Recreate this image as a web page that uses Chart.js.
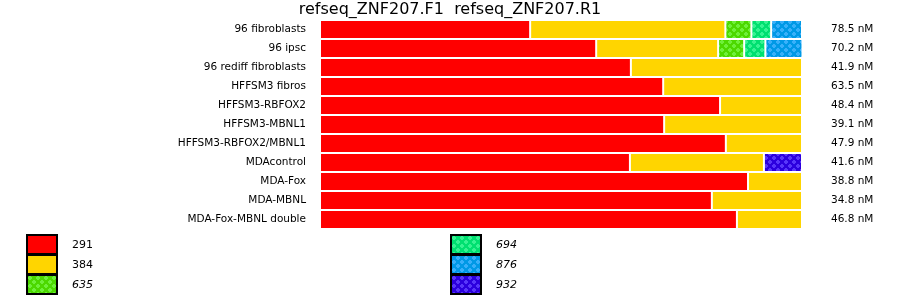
<!DOCTYPE html>
<html lang="en">
  <head>
    <meta charset="UTF-8" />
    <title>refseq_ZNF207</title>
    <script src="https://cdn.jsdelivr.net/npm/chart.js"></script>
    <style>
      body { margin: 0; background: #fff; }
      canvas { display: block; }
    </style>
  </head>
  <body>
    <canvas id="znfChart" width="900" height="299"></canvas>

    <script>
      const chartTitle = "refseq_ZNF207.F1  refseq_ZNF207.R1";

      // samples, top to bottom
      const samples = [
        "96 fibroblasts",
        "96 ipsc",
        "96 rediff fibroblasts",
        "HFFSM3 fibros",
        "HFFSM3-RBFOX2",
        "HFFSM3-MBNL1",
        "HFFSM3-RBFOX2/MBNL1",
        "MDAcontrol",
        "MDA-Fox",
        "MDA-MBNL",
        "MDA-Fox-MBNL double",
      ];
      const concentrations = [
        "78.5 nM", "70.2 nM", "41.9 nM", "63.5 nM", "48.4 nM", "39.1 nM",
        "47.9 nM", "41.6 nM", "38.8 nM", "34.8 nM", "46.8 nM",
      ];

      // percentage of each product size per sample
      const size291 = [43.6, 57.3, 64.5, 71.2, 83.0, 71.4, 84.2, 64.3, 88.8, 81.3, 86.5];
      const size384 = [40.5, 25.3, 35.5, 28.8, 17.0, 28.6, 15.8, 27.8, 11.2, 18.7, 13.5];
      const size635 = [5.4, 5.4, null, null, null, null, null, null, null, null, null];
      const size694 = [4.1, 4.4, null, null, null, null, null, null, null, null, null];
      const size876 = [6.4, 7.7, null, null, null, null, null, null, null, null, null];
      const size932 = [null, null, null, null, null, null, null, 7.9, null, null, null];

      const FONT = "DejaVu Sans";

      // small dotted tile used for the less common sizes
      function makePattern(base, dot) {
        const c = document.createElement("canvas");
        c.width = 8;
        c.height = 8;
        const g = c.getContext("2d");
        g.fillStyle = base;
        g.fillRect(0, 0, 8, 8);
        g.fillStyle = dot;
        [[2, 2], [6, 6]].forEach(([cx, cy]) => {
          g.fillRect(cx - 1, cy - 2, 2, 4);
          g.fillRect(cx - 2, cy - 1, 4, 2);
        });
        return g.createPattern(c, "repeat");
      }

      const series = [
        { label: "291", data: size291, color: "#ff0000", italic: false },
        { label: "384", data: size384, color: "#ffd500", italic: false },
        { label: "635", data: size635, color: makePattern("#4cd800", "#6ef03a"), italic: true },
        { label: "694", data: size694, color: makePattern("#00e070", "#36f392"), italic: true },
        { label: "876", data: size876, color: makePattern("#0099e6", "#38b0fa"), italic: true },
        { label: "932", data: size932, color: makePattern("#2c00de", "#5836fa"), italic: true },
      ];

      // title on top + legend in two columns under the bars
      const decorations = {
        id: "decorations",
        afterDraw(chart) {
          const ctx = chart.ctx;
          ctx.save();
          ctx.fillStyle = "#000";
          ctx.font = "16px '" + FONT + "'";
          ctx.textAlign = "center";
          ctx.textBaseline = "alphabetic";
          ctx.fillText(chartTitle, chart.width / 2, 14);

          ctx.textAlign = "left";
          ctx.textBaseline = "middle";
          chart.data.datasets.forEach((ds, i) => {
            const x = i < 3 ? 27 : 451;
            const y = 235 + (i % 3) * 20;
            ctx.fillStyle = ds.backgroundColor;
            ctx.fillRect(x, y, 30, 19);
            ctx.strokeStyle = "#000";
            ctx.lineWidth = 2;
            ctx.strokeRect(x, y, 30, 19);
            ctx.fillStyle = "#000";
            ctx.font = (series[i].italic ? "italic " : "") + "11px '" + FONT + "'";
            ctx.fillText(ds.label, x + 45, y + 10);
          });
          ctx.restore();
        },
      };

      // fixed axis widths, and no extra top/bottom padding from tick labels
      function fixWidth(w) {
        return (s) => {
          s.width = w;
          s.paddingTop = 0;
          s.paddingBottom = 0;
        };
      }

      new Chart(document.getElementById("znfChart"), {
        type: "bar",
        data: {
          labels: samples,
          datasets: series.map((s) => ({
            label: s.label,
            data: s.data,
            backgroundColor: s.color,
            borderColor: "#ffffff",
            borderWidth: 1,
            borderSkipped: false,
            inflateAmount: 0,
            categoryPercentage: 1,
            barPercentage: 1,
          })),
        },
        options: {
          indexAxis: "y",
          responsive: false,
          animation: false,
          layout: { autoPadding: false, padding: { top: 20, bottom: 70, left: 0, right: 0 } },
          plugins: {
            legend: { display: false },
            tooltip: { enabled: false },
            title: { display: false },
          },
          scales: {
            x: { display: false, stacked: true, min: 0, max: 100 },
            y: {
              stacked: true,
              offset: true,
              grid: { display: false, drawTicks: false },
              border: { display: false },
              ticks: { color: "#000", padding: 14, font: { family: FONT, size: 10.5 } },
              afterFit: fixWidth(320),
            },
            y2: {
              type: "category",
              labels: concentrations,
              position: "right",
              offset: true,
              grid: { display: false, drawTicks: false },
              border: { display: false },
              ticks: { color: "#000", padding: 29, font: { family: FONT, size: 10.5 } },
              afterFit: fixWidth(98),
            },
          },
        },
        plugins: [decorations],
      });
    </script>
  </body>
</html>
